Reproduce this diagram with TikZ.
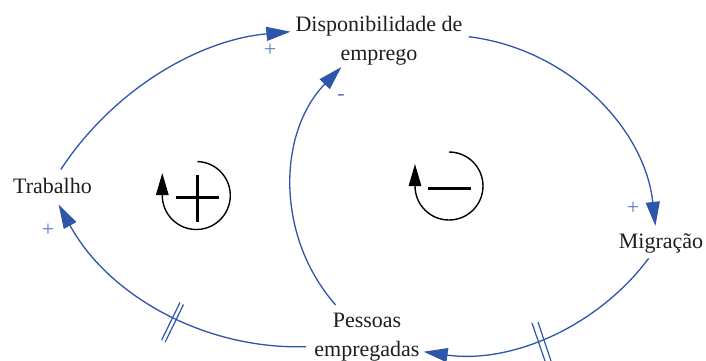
\documentclass[tikz,border=0pt]{standalone}
\usepackage{fontspec}
\setmainfont{Liberation Serif}
\usetikzlibrary{arrows.meta}
\definecolor{cblue}{RGB}{45,85,170}
\definecolor{lblue}{RGB}{90,120,200}
\definecolor{txt}{RGB}{30,30,30}
\begin{document}
\begin{tikzpicture}[x=1pt,y=-1pt,
  var/.style={font=\fontsize{22}{29}\selectfont, text=txt, align=center, inner sep=3pt},
  conn/.style={draw=cblue, line width=1.3pt, -{Triangle[length=24pt,width=14pt]}},
  pol/.style={text=lblue, font=\fontsize{22}{22}\selectfont, inner sep=0pt},
  hash/.style={draw=cblue, line width=1.2pt},
  loopc/.style={line width=1.4pt, black, -{Triangle[length=22pt,width=12.5pt]}},
  bar/.style={line width=3pt, black}
]
\useasboundingbox (0,0) rectangle (706,361);
% variables
\node[var, anchor=base] (trab) at (52.5,193) {Trabalho};
\node[var] (disp) at (379,41) {Disponibilidade de\\emprego};
\node[var, anchor=base] (mig) at (661,248) {Migração};
\node[var] (pes) at (367,337) {Pessoas\\empregadas};
% connectors (circular arcs)
\draw[conn] ([xshift=8.3pt,yshift=5pt]trab.north) .. controls (112.2,91.1) and (196.8,40.2) .. ([xshift=-2pt,yshift=9.3pt]disp.west);
\draw[conn] ([xshift=3.1pt,yshift=4.3pt]disp.east) .. controls (567.3,48.8) and (644.5,127.1) .. ([xshift=-5.6pt,yshift=4.1pt]mig.north);
\draw[conn] ([xshift=-12.4pt,yshift=-2.5pt]mig.south) .. controls (596.4,328.1) and (509.7,364) .. ([xshift=0.9pt,yshift=-14.7pt]pes.east);
\draw[conn] ([xshift=-5.2pt,yshift=-9.7pt]pes.west) .. controls (203.3,349.8) and (107.6,294.6) .. ([xshift=6.1pt,yshift=-8pt]trab.south);
\draw[conn] ([xshift=-31.4pt,yshift=4.8pt]pes.north) .. controls (275.1,236.2) and (277.6,132.5) .. ([xshift=-37.6pt,yshift=1.7pt]disp.south);
% delay marks
\draw[hash] (532,323) -- (545,361);
\draw[hash] (538,322) -- (551,361);
\draw[hash] (161.7,340) -- (180,302.5);
\draw[hash] (165.2,342) -- (183.5,304.5);
% polarities
\node[pol] (p1) at (270,50) {+};
\node[pol] (p2) at (633,208) {+};
\node[pol] (p3) at (48,230) {+};
\node[pol] (p4) at (341,97) {-};
% loop symbols
\coordinate (lpos) at (196.3,195.5);
\draw[loopc] (lpos) ++(-88:34) arc[start angle=-88, end angle=180, radius=34] -- ++(0,-22.5);
\draw[bar] (176,197) -- (219,197);
\draw[bar] (197.5,175) -- (197.5,222);
\coordinate (lneg) at (449,186);
\draw[loopc] (lneg) ++(-90:34) arc[start angle=-90, end angle=180, radius=34] -- ++(0,-22);
\draw[bar] (428,188) -- (471,188);
\end{tikzpicture}
\end{document}
